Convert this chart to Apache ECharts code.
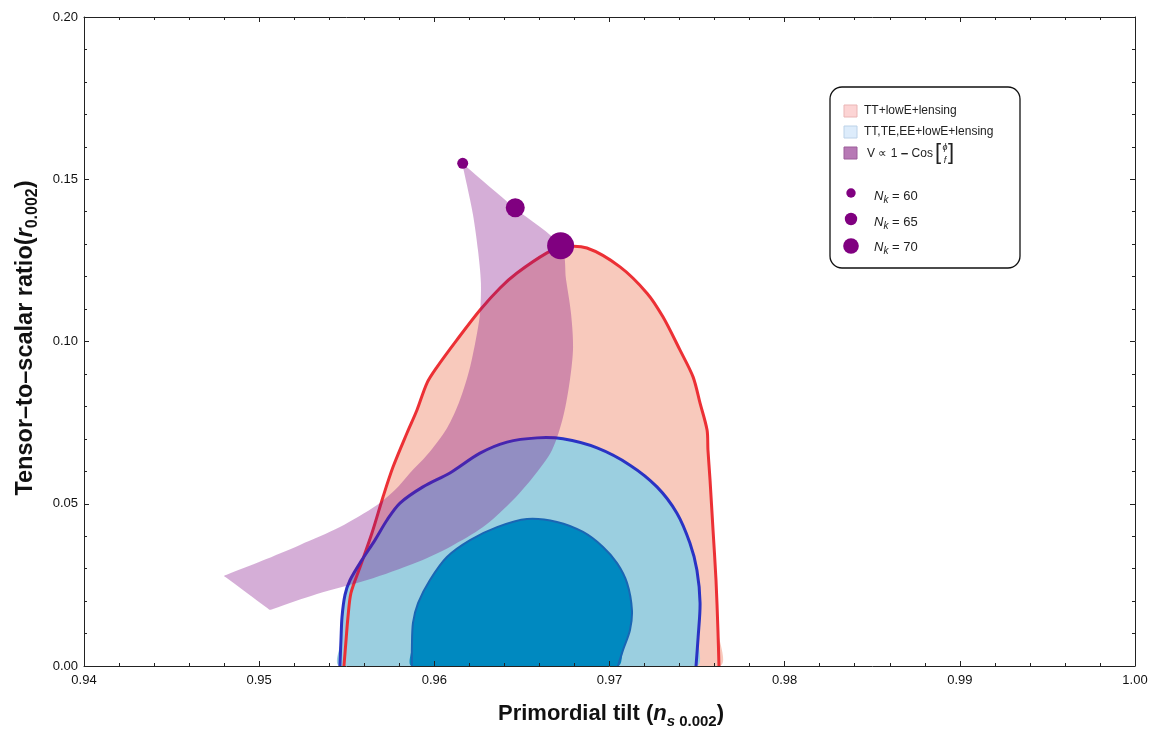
<!DOCTYPE html>
<html><head><meta charset="utf-8">
<script src="https://cdn.jsdelivr.net/npm/echarts@6/dist/echarts.min.js"></script>
<style>html,body{margin:0;padding:0;background:#fff}#c{width:1151px;height:729px}</style>
</head><body><div id="c"></div>
<script>
// ---------- DATA ----------
// x = n_s (0.002), y = r (0.002)
const xTickValues = [0.94, 0.95, 0.96, 0.97, 0.98, 0.99, 1.00];
const yTickValues = [0.00, 0.05, 0.10, 0.15, 0.20];

// TT+lowE+lensing (95% contour)
const ttContour = [
  [0.95484,0.0000],[0.95496,0.0080],[0.95507,0.0151],[0.95524,0.0225],[0.95576,0.0305],
  [0.95644,0.0410],[0.95707,0.0521],[0.95764,0.0613],[0.95844,0.0718],[0.95901,0.0789],
  [0.95958,0.0872],[0.96015,0.0921],[0.96129,0.1005],[0.96261,0.1097],[0.96375,0.1165],
  [0.96472,0.1211],[0.96643,0.1273],[0.96729,0.1291],[0.96871,0.1288],[0.97060,0.1230],
  [0.97214,0.1149],[0.97305,0.1076],[0.97402,0.0974],[0.97477,0.0891],[0.97517,0.0810],
  [0.97557,0.0727],[0.97562,0.0666],[0.97574,0.0573],[0.97591,0.0419],[0.97608,0.0265],
  [0.97619,0.0111],[0.97625,0.0000]
];
// TT,TE,EE+lowE+lensing (95% contour)
const ttteeeOuter = [
  [0.95461,0.0000],[0.95467,0.0080],[0.95473,0.0151],[0.95490,0.0219],[0.95519,0.0265],
  [0.95587,0.0327],[0.95661,0.0388],[0.95730,0.0450],[0.95804,0.0502],[0.95935,0.0552],
  [0.96089,0.0595],[0.96261,0.0656],[0.96415,0.0690],[0.96586,0.0703],[0.96734,0.0700],
  [0.96929,0.0672],[0.97117,0.0619],[0.97271,0.0552],[0.97385,0.0471],[0.97459,0.0379],
  [0.97499,0.0296],[0.97517,0.0194],[0.97506,0.0089],[0.97494,0.0000]
];
// TT,TE,EE+lowE+lensing (68% contour)
const ttteeeInner = [
  [0.95872,0.0000],[0.95872,0.0059],[0.95878,0.0133],[0.95907,0.0194],[0.95975,0.0265],
  [0.96072,0.0336],[0.96204,0.0388],[0.96358,0.0428],[0.96529,0.0453],[0.96700,0.0444],
  [0.96849,0.0413],[0.96963,0.0367],[0.97043,0.0317],[0.97100,0.0256],[0.97128,0.0173],
  [0.97117,0.0111],[0.97077,0.0049],[0.97048,0.0000]
];
// V ∝ 1 − Cos[φ/f] prediction band (outline, clockwise from the N_k = 60 tip)
const cosineBand = [
  [0.96158,0.1550],[0.96171,0.1544],[0.96460,0.1411],[0.96723,0.1294],[0.96752,0.1190],
  [0.96780,0.1088],[0.96792,0.0983],[0.96774,0.0881],[0.96735,0.0767],[0.96672,0.0666],
  [0.96563,0.0582],[0.96432,0.0502],[0.96278,0.0428],[0.96089,0.0367],[0.95901,0.0320],
  [0.95616,0.0265],[0.95330,0.0222],[0.95079,0.0176],[0.95062,0.0173],[0.95048,0.0178],
  [0.94813,0.0272],[0.94799,0.0277],[0.94815,0.0281],[0.95016,0.0324],[0.95233,0.0373],
  [0.95461,0.0428],[0.95673,0.0496],[0.95775,0.0542],[0.95861,0.0595],[0.95958,0.0650],
  [0.96072,0.0733],[0.96146,0.0820],[0.96204,0.0921],[0.96244,0.1026],[0.96261,0.1088],
  [0.96266,0.1180],[0.96249,0.1282],[0.96221,0.1390],[0.96186,0.1482],[0.96162,0.1541]
];
// e-fold number points
const nkValues = [60, 65, 70];
const nkNs = [0.96162, 0.96462, 0.96721];
const nkR  = [0.15492, 0.14123, 0.12952];

// ---------- STYLE ----------
const FONT = 'Liberation Sans';
const nkSymbolSize = {60: 11, 65: 19, 70: 27};

function fillSeries(name, pts, color, smooth) {
  return {
    type: 'custom', name, data: pts, clip: true, silent: true,
    renderItem: (params, api) => {
      if (params.dataIndex !== 0) return null;
      return { type: 'polygon', shape: { points: pts.map(d => api.coord(d)), smooth: smooth },
               style: { fill: color } };
    }
  };
}
function strokeSeries(name, pts, color, width, smooth) {
  return {
    type: 'custom', name, data: pts, clip: true, silent: true,
    renderItem: (params, api) => {
      if (params.dataIndex !== 0) return null;
      return { type: 'polyline', shape: { points: pts.map(d => api.coord(d)), smooth: smooth },
               style: { fill: null, stroke: color, lineWidth: width, lineJoin: 'round', lineCap: 'round' } };
    }
  };
}

const axisCommon = {
  type: 'value', z: 10,
  axisLine: { show: true, onZero: false, lineStyle: { color: '#222', width: 1 } },
  axisTick: { show: true, inside: true, length: 5, lineStyle: { color: '#222', width: 1 } },
  minorTick: { show: true, splitNumber: 5, length: 3, lineStyle: { color: '#222', width: 1 } },
  splitLine: { show: false }, minorSplitLine: { show: false }
};

const chart = echarts.init(document.getElementById('c'), null, { renderer: 'canvas' });
const option = {
  animation: false,
  backgroundColor: '#ffffff',
  grid: { left: 84, right: 16, top: 17, bottom: 63 },
  xAxis: [
    Object.assign({}, axisCommon, {
      position: 'bottom', min: xTickValues[0], max: xTickValues[xTickValues.length - 1], interval: 0.01,
      axisLabel: { formatter: v => v.toFixed(2), fontSize: 13, color: '#111', margin: 8, fontFamily: FONT }
    }),
    Object.assign({}, axisCommon, {
      position: 'top', min: xTickValues[0], max: xTickValues[xTickValues.length - 1], interval: 0.01,
      axisLabel: { show: false }
    })
  ],
  yAxis: [
    Object.assign({}, axisCommon, {
      position: 'left', min: yTickValues[0], max: yTickValues[yTickValues.length - 1], interval: 0.05,
      axisLabel: { formatter: v => v.toFixed(2), fontSize: 13, color: '#111', margin: 6, fontFamily: FONT }
    }),
    Object.assign({}, axisCommon, {
      position: 'right', min: yTickValues[0], max: yTickValues[yTickValues.length - 1], interval: 0.05,
      axisLabel: { show: false }
    })
  ],
  series: [
    fillSeries('TT+lowE+lensing', ttContour, '#f8c9bc', 0.3),
    fillSeries('TT,TE,EE+lowE+lensing 95%', ttteeeOuter, '#9bcfe0', 0.3),
    fillSeries('TT,TE,EE+lowE+lensing 68%', ttteeeInner, '#0089c0', 0.3),
    strokeSeries('TT line', ttContour, '#ec3035', 3, 0.3),
    strokeSeries('TTTEEE outer line', ttteeeOuter, '#2a33c4', 3, 0.3),
    strokeSeries('TTTEEE inner line', ttteeeInner, '#1a66b4', 2, 0.3),
    fillSeries('V ∝ 1 − Cos[φ/f]', cosineBand, 'rgba(128,10,135,0.33)', 0.3),
    {
      type: 'scatter', name: 'N_k', silent: true,
      data: nkValues.map((n, i) => [nkNs[i], nkR[i], n]),
      symbol: 'circle',
      symbolSize: v => nkSymbolSize[v[2]],
      itemStyle: { color: '#800080', opacity: 1 }
    }
  ],
  graphic: [
    // axis titles
    {
      type: 'text', x: 611, y: 714, z: 100,
      style: {
        text: '{b|Primordial tilt (}{i|n}{s|s }{sub|0.002}{b|)}',
        align: 'center', verticalAlign: 'middle', fill: '#111',
        rich: {
          b: { fontSize: 22, fontWeight: 'bold', fontFamily: FONT, lineHeight: 30, fill: '#111' },
          i: { fontSize: 22, fontWeight: 'bold', fontStyle: 'italic', fontFamily: FONT, lineHeight: 30, fill: '#111' },
          s: { fontSize: 15, fontWeight: 'bold', fontStyle: 'italic', fontFamily: FONT, lineHeight: 18, verticalAlign: 'bottom', fill: '#111' },
          sub: { fontSize: 15, fontWeight: 'bold', fontFamily: FONT, lineHeight: 18, verticalAlign: 'bottom', fill: '#111' }
        }
      }
    },
    {
      type: 'text', x: 26, y: 338, rotation: Math.PI / 2, z: 100,
      style: {
        text: '{b|Tensor–to–scalar ratio(}{i|r}{sub|0.002}{b|)}',
        align: 'center', verticalAlign: 'middle', fill: '#111',
        rich: {
          b: { fontSize: 23.5, fontWeight: 'bold', fontFamily: FONT, lineHeight: 30, fill: '#111' },
          i: { fontSize: 23.5, fontWeight: 'bold', fontStyle: 'italic', fontFamily: FONT, lineHeight: 30, fill: '#111' },
          sub: { fontSize: 16, fontWeight: 'bold', fontFamily: FONT, lineHeight: 18, verticalAlign: 'bottom', fill: '#111' }
        }
      }
    },
    // legend box
    { type: 'rect', z: 100, shape: { x: 830, y: 87, width: 190, height: 181, r: 12 },
      style: { fill: '#ffffff', stroke: '#111', lineWidth: 1.3 } },
    { type: 'rect', z: 101, shape: { x: 844, y: 105, width: 13, height: 12 }, style: { fill: '#fcd4d4', stroke: '#eab5b5', lineWidth: 1 } },
    { type: 'text', z: 101, x: 864, y: 111, style: { text: 'TT+lowE+lensing', fontSize: 12, fontFamily: FONT, fill: '#222', verticalAlign: 'middle' } },
    { type: 'rect', z: 101, shape: { x: 844, y: 126, width: 13, height: 12 }, style: { fill: '#ddecfb', stroke: '#bcd2e8', lineWidth: 1 } },
    { type: 'text', z: 101, x: 864, y: 132, style: { text: 'TT,TE,EE+lowE+lensing', fontSize: 12, fontFamily: FONT, fill: '#222', verticalAlign: 'middle' } },
    { type: 'rect', z: 101, shape: { x: 844, y: 147, width: 13, height: 12 }, style: { fill: '#b779b5', stroke: '#9c5e9a', lineWidth: 1 } },
    { type: 'text', z: 101, x: 867, y: 154, style: {
        text: '{t|V ∝ 1 }{m|−}{t| Cos}', verticalAlign: 'middle', fill: '#222',
        rich: { t: { fontSize: 12, fontFamily: FONT, fill: '#222' }, m: { fontSize: 13, fontWeight: 'bold', fontFamily: FONT, fill: '#222' } } } },
    { type: 'text', z: 101, x: 935, y: 153, style: { text: '[', fontSize: 22, fontFamily: FONT, fill: '#222', verticalAlign: 'middle' } },
    { type: 'text', z: 101, x: 945, y: 147, style: { text: 'ϕ', fontSize: 9, fontStyle: 'italic', fontFamily: FONT, fill: '#222', align: 'center', verticalAlign: 'middle' } },
    { type: 'text', z: 101, x: 945, y: 160, style: { text: 'f', fontSize: 9, fontStyle: 'italic', fontFamily: FONT, fill: '#222', align: 'center', verticalAlign: 'middle' } },
    { type: 'text', z: 101, x: 948, y: 153, style: { text: ']', fontSize: 22, fontFamily: FONT, fill: '#222', verticalAlign: 'middle' } },
    { type: 'circle', z: 101, shape: { cx: 851, cy: 193, r: 4.7 }, style: { fill: '#800080' } },
    { type: 'circle', z: 101, shape: { cx: 851, cy: 219, r: 6.2 }, style: { fill: '#800080' } },
    { type: 'circle', z: 101, shape: { cx: 851, cy: 246, r: 7.8 }, style: { fill: '#800080' } }
  ].concat(nkValues.map((n, i) => ({
    type: 'text', z: 101, x: 874, y: [196, 222, 247][i],
    style: {
      text: '{i|N}{k|k}{t| = ' + n + '}', verticalAlign: 'middle', fill: '#222',
      rich: {
        i: { fontSize: 13, fontStyle: 'italic', fontFamily: FONT, lineHeight: 18, fill: '#222' },
        k: { fontSize: 10, fontStyle: 'italic', fontFamily: FONT, lineHeight: 12, verticalAlign: 'bottom', fill: '#222' },
        t: { fontSize: 13, fontFamily: FONT, lineHeight: 18, fill: '#222' }
      }
    }
  })))
};
chart.setOption(option);
</script>
</body></html>
